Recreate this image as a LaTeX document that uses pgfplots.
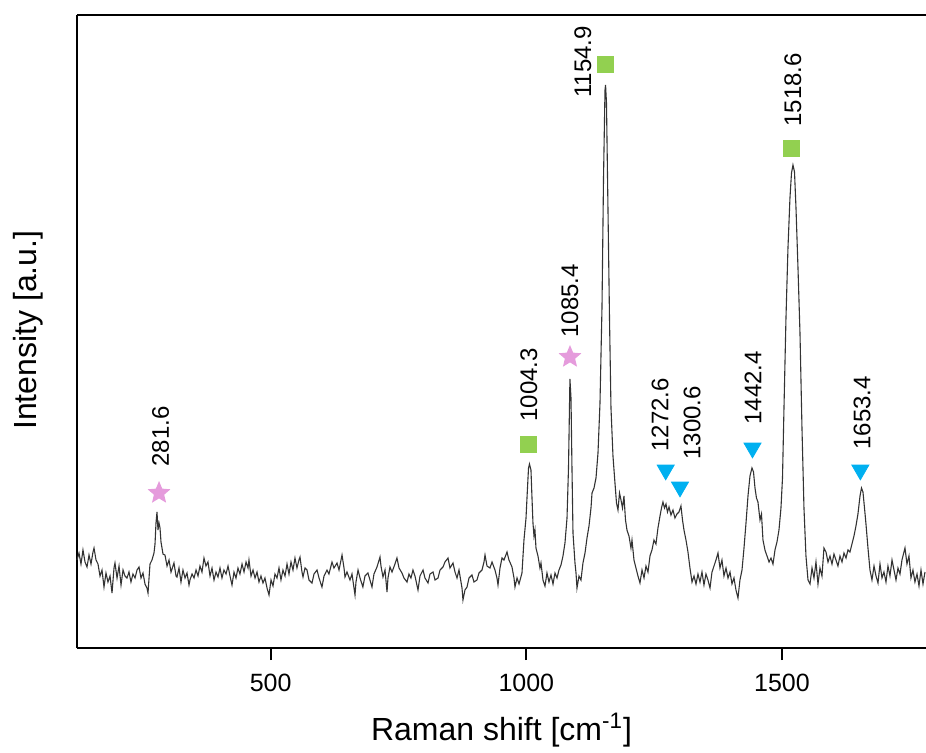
\documentclass[border=0pt]{standalone}
\usepackage{fontspec}
\setmainfont{Liberation Sans}
\usepackage{pgfplots}
\pgfplotsset{compat=1.18}
\usetikzlibrary{calc}
\definecolor{pkgreen}{HTML}{92D050}
\definecolor{pkpink}{HTML}{E59BDC}
\definecolor{pkblue}{HTML}{00B0F0}

% filled five-pointed star
\pgfdeclareplotmark{fstar}{%
  \pgfpathmoveto{\pgfpointpolar{90}{\pgfplotmarksize}}%
  \pgfpathlineto{\pgfpointpolar{126}{0.45\pgfplotmarksize}}%
  \pgfpathlineto{\pgfpointpolar{162}{\pgfplotmarksize}}%
  \pgfpathlineto{\pgfpointpolar{198}{0.45\pgfplotmarksize}}%
  \pgfpathlineto{\pgfpointpolar{234}{\pgfplotmarksize}}%
  \pgfpathlineto{\pgfpointpolar{270}{0.45\pgfplotmarksize}}%
  \pgfpathlineto{\pgfpointpolar{306}{\pgfplotmarksize}}%
  \pgfpathlineto{\pgfpointpolar{342}{0.45\pgfplotmarksize}}%
  \pgfpathlineto{\pgfpointpolar{18}{\pgfplotmarksize}}%
  \pgfpathlineto{\pgfpointpolar{54}{0.45\pgfplotmarksize}}%
  \pgfpathclose\pgfusepathqfill}

\begin{document}
\begin{tikzpicture}
\begin{axis}[
  name=ax,
  scale only axis,
  width=424.5pt, height=316.5pt,
  xmin=121.1, xmax=1781.8,
  ymin=0, ymax=633,
  axis lines*=left,
  axis line style={-, line width=1pt, black},
  xtick={500,1000,1500},
  ytick=\empty,
  tick align=outside,
  major tick length=6pt,
  every tick/.style={black, line width=1pt},
  /pgf/number format/assume math mode=true,
  /pgf/number format/1000 sep={},
  xticklabel style={font=\fontsize{12.5}{14}\selectfont, yshift=-3.5pt},
  xlabel={Raman shift [cm\textsuperscript{-1}]},
  ylabel={Intensity [a.u.]},
  every axis x label/.style={at={(axis description cs:0.5,-0.1295)}, anchor=center, font=\fontsize{16}{19}\selectfont},
  every axis y label/.style={at={(axis description cs:-0.0577,0.502)}, anchor=center, rotate=90, font=\fontsize{16}{19}\selectfont},
  clip=false,
]
\draw[line width=1pt, black] (rel axis cs:0,1) -- (rel axis cs:1,1);

\addplot[black!80, line width=0.55pt] table {
x y
121.1 88
125.0 95
128.9 84
132.8 98
136.8 86
140.7 81
144.6 93
148.5 84
152.4 96
154.4 100
158.3 88
162.2 84
166.1 72
170.0 78
173.9 61
177.8 75
181.7 66
185.7 72
189.6 55
193.5 80
195.4 85
199.4 70
203.3 82
207.2 63
211.1 78
215.0 72
218.9 70
222.8 76
226.7 66
230.6 74
234.6 70
238.5 78
242.4 81
246.3 70
250.2 75
254.1 64
258.0 60
260.0 55
263.9 84
267.8 88
271.7 95
273.7 104
275.6 125
277.6 136
279.5 118
281.5 125
283.5 120
285.4 106
289.3 94
293.2 93
297.2 82
301.1 88
305.0 76
310.8 85
314.8 72
316.7 71
320.6 80
324.5 66
328.4 78
332.4 70
336.3 75
340.2 63
342.1 68
346.1 74
350.0 70
353.9 78
357.8 72
361.7 82
365.6 76
369.5 90
373.4 82
377.3 86
381.3 72
385.2 80
389.1 68
393.0 76
396.9 71
400.8 80
404.7 70
408.6 78
412.6 74
416.5 82
420.4 72
424.3 63
428.2 76
432.1 70
436.0 80
439.9 74
443.9 84
447.8 76
451.7 86
455.6 80
457.5 88
461.5 72
465.4 78
469.3 70
473.2 76
477.1 66
481.0 72
484.9 65
488.8 70
492.8 60
496.7 53
500.6 68
504.5 62
508.4 74
512.3 70
516.2 80
520.1 68
524.0 78
528.0 72
531.9 84
535.8 74
539.7 86
543.6 78
547.5 90
551.4 80
555.3 88
557.3 91
561.2 76
563.2 71
567.1 80
571.0 78
574.9 68
580.8 65
584.7 74
590.6 78
594.5 70
600.3 61
604.3 72
610.1 78
614.0 74
619.9 86
623.8 80
629.7 85
633.6 78
639.5 93
643.4 80
645.3 71
649.2 76
655.1 68
659.0 74
664.9 53
666.8 66
670.8 78
674.7 70
680.3 61
684.4 72
690.2 75
694.2 68
698.1 61
702.0 74
707.9 81
713.8 91
715.7 82
719.6 71
723.6 78
727.5 56
729.4 70
733.3 81
737.3 76
743.1 84
747.0 90
751.0 80
756.8 75
760.7 70
766.6 66
770.5 74
774.4 70
778.3 78
782.2 72
788.1 58
792.0 72
797.9 78
801.8 70
807.7 65
811.6 74
817.5 76
821.4 68
827.3 70
831.2 78
837.0 81
840.9 86
846.8 90
850.7 80
856.6 85
860.5 76
864.4 70
868.3 78
870.3 72
874.2 60
876.1 48
880.0 58
884.0 61
887.9 70
893.7 73
897.6 66
903.5 68
907.4 75
913.3 78
917.2 86
919.2 93
923.1 82
928.9 80
932.9 86
938.7 78
942.6 70
944.6 63
948.5 80
952.4 90
956.3 88
962.2 96
966.1 88
972.0 81
975.9 70
977.8 61
981.8 70
985.7 64
991.5 75
995.4 108
999.4 130
1001.3 150
1004.3 180
1006.2 184
1009.1 178
1011.1 150
1013.0 125
1015.0 112
1016.9 118
1018.9 100
1022.8 92
1026.7 80
1028.7 85
1032.6 68
1036.5 62
1040.4 75
1044.3 66
1048.3 73
1052.2 64
1056.1 75
1060.0 70
1063.9 78
1067.8 83
1071.7 92
1075.6 105
1079.6 130
1082.5 180
1085.3 269
1087.4 250
1089.3 180
1091.3 115
1095.2 85
1097.2 75
1099.1 60
1103.0 72
1106.9 68
1110.8 85
1114.8 95
1118.7 110
1122.6 122
1126.5 140
1128.5 155
1132.4 160
1136.3 170
1140.2 195
1144.1 245
1148.0 340
1151.0 470
1153.9 558
1155.0 563
1156.8 545
1159.7 440
1162.7 330
1165.6 240
1169.5 192
1173.4 165
1176.4 145
1179.3 138
1182.3 155
1185.2 148
1188.1 140
1191.0 152
1194.0 128
1196.9 118
1200.8 112
1204.7 100
1206.7 108
1210.6 88
1214.5 80
1218.4 72
1222.3 65
1226.3 78
1230.2 70
1234.1 82
1238.0 76
1241.9 92
1245.8 98
1249.7 108
1253.6 104
1257.5 120
1261.5 132
1264.4 140
1267.3 146
1270.3 140
1273.2 144
1276.1 136
1279.1 141
1283.0 133
1286.9 138
1290.8 130
1294.7 134
1298.6 136
1302.5 142
1305.5 128
1308.4 118
1312.3 108
1316.2 96
1320.1 80
1324.1 66
1328.0 72
1331.9 64
1335.8 74
1339.7 66
1343.6 76
1347.5 63
1351.4 74
1355.3 68
1359.3 60
1363.2 76
1367.1 82
1371.0 88
1374.9 95
1378.8 80
1382.7 88
1386.6 72
1390.6 80
1394.5 70
1398.4 76
1402.3 64
1406.2 70
1410.1 58
1414.0 50
1417.9 68
1421.9 78
1425.8 100
1429.7 125
1433.6 152
1437.5 172
1441.4 180
1444.4 176
1447.3 160
1450.2 150
1453.1 146
1457.1 128
1460.0 134
1462.9 108
1466.8 98
1470.8 92
1474.7 86
1478.6 90
1482.5 84
1486.4 98
1490.3 106
1494.2 118
1498.1 140
1501.1 170
1504.0 240
1507.9 330
1511.8 400
1515.7 450
1518.7 475
1521.6 483
1524.6 476
1527.5 440
1531.4 380
1535.3 315
1539.2 220
1543.1 140
1547.0 92
1551.0 68
1554.9 64
1558.8 80
1562.7 70
1566.6 86
1570.5 64
1574.4 80
1578.3 72
1582.2 100
1586.2 96
1590.1 86
1594.0 92
1597.9 84
1601.8 94
1605.7 88
1609.6 82
1613.5 92
1617.5 86
1621.4 95
1625.3 90
1629.2 98
1633.1 96
1637.0 104
1640.9 112
1644.8 122
1648.7 134
1652.7 152
1655.6 160
1658.5 156
1661.5 140
1664.4 124
1668.3 100
1672.2 78
1676.1 68
1680.1 82
1684.0 72
1687.9 65
1691.8 84
1695.7 70
1699.6 76
1703.5 66
1707.4 82
1711.3 72
1715.3 88
1719.2 78
1723.1 68
1727.0 80
1730.9 74
1734.8 88
1738.7 96
1740.7 100
1744.6 84
1748.5 92
1752.4 70
1756.3 78
1760.2 66
1764.2 74
1768.1 62
1772.0 78
1775.9 64
1779.8 76
};

% markers
\addplot[only marks, pkgreen, mark=square*, mark size=4pt]
  coordinates {(1004.3,204) (1154.9,584) (1518.6,500)};
\addplot[only marks, pkpink, mark=fstar, mark size=6pt]
  coordinates {(281.6,155) (1085.4,291)};
\addplot[only marks, pkblue, mark=triangle*, mark size=4.9pt, mark options={rotate=180}]
  coordinates {(1272.6,178) (1300.6,161) (1442.4,200) (1653.4,178)};

% peak labels
\begin{scope}[every node/.style={rotate=90, anchor=west, inner sep=0pt, font=\fontsize{12}{14}\selectfont}]
\node at (axis cs:284.8,181) {281.6};
\node at (axis cs:1005.2,226) {1004.3};
\node at (axis cs:1085.4,310) {1085.4};
\node[anchor=center] at (axis cs:1110.8,586) {1154.9};
\node at (axis cs:1261.5,196) {1272.6};
\node at (axis cs:1324.1,188) {1300.6};
\node at (axis cs:1443.4,223) {1442.4};
\node at (axis cs:1521.6,521) {1518.6};
\node at (axis cs:1656.6,198) {1653.4};
\end{scope}
\end{axis}
\pgfresetboundingbox
\path[use as bounding box] ($(ax.south west)+(-38.5pt,-52pt)$) rectangle ($(ax.north east)+(0,7.5pt)$);
\end{tikzpicture}
\end{document}
